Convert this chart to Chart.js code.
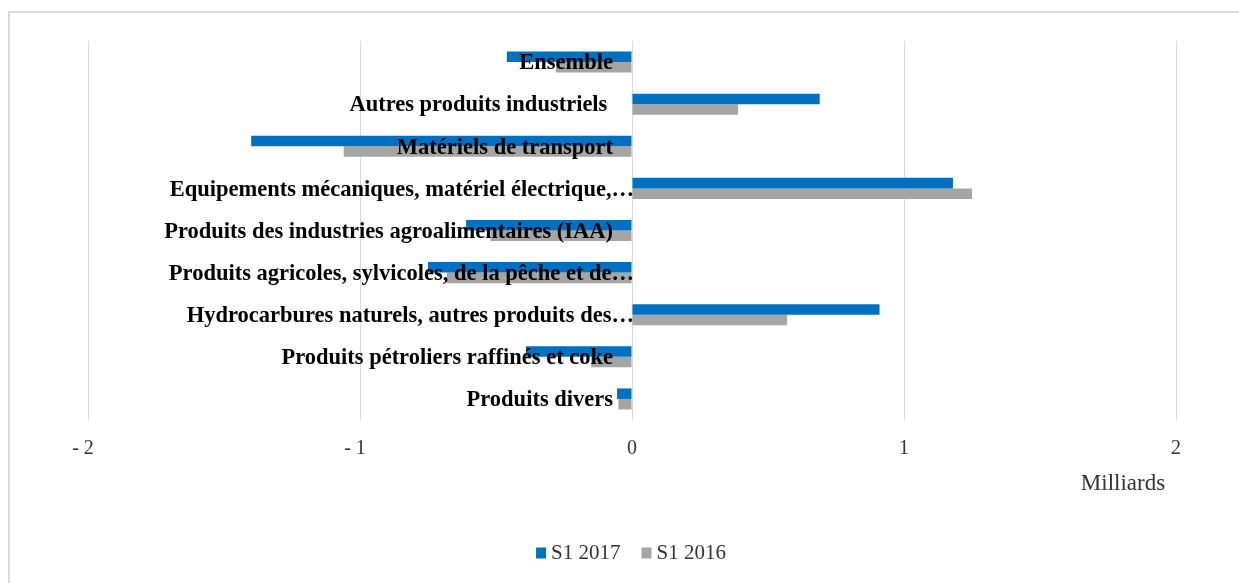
<!DOCTYPE html>
<html>
<head>
<meta charset="utf-8">
<script src="https://cdn.jsdelivr.net/npm/chart.js@4.4.1/dist/chart.umd.min.js"></script>
<style>
  html, body { margin: 0; padding: 0; background: #fff; }
  #wrap { position: relative; width: 1239px; height: 583px; overflow: hidden; }
  #frame { position: absolute; left: 8px; top: 11px; width: 1300px; height: 700px;
           border-left: 2px solid #d9d9d9; border-top: 2px solid #d9d9d9; pointer-events: none; }
  canvas { position: absolute; left: 0; top: 0; }
</style>
</head>
<body>
<div id="wrap">
  <div id="frame"></div>
  <canvas id="c" width="1239" height="583"></canvas>
</div>
<script>
const categories = [
  "Ensemble",
  "Autres produits industriels ",
  "Matériels de transport",
  "Equipements mécaniques, matériel électrique,…",
  "Produits des industries agroalimentaires (IAA)",
  "Produits agricoles, sylvicoles, de la pêche et de…",
  "Hydrocarbures naturels, autres produits des…",
  "Produits pétroliers raffinés et coke",
  "Produits divers"
];
const s2017 = [-0.46, 0.69, -1.40, 1.18, -0.61, -0.75, 0.91, -0.39, -0.055];
const s2016 = [-0.28, 0.39, -1.06, 1.25, -0.52, -0.68, 0.57, -0.15, -0.05];
const seriesNames = ["S1 2017", "S1 2016"];
const seriesColors = ["#0070C0", "#A5A5A5"];
const xTickValues = [-2, -1, 0, 1, 2];
const xTickLabels = ["- 2  ", "- 1  ", "0", "1", "2"];
const axisUnit = "Milliards";

const serif = "'Liberation Serif', 'Times New Roman', serif";

const extrasPlugin = {
  id: 'extras',
  afterDatasetsDraw(chart) {
    const ctx = chart.ctx;
    const xs = chart.scales.x, ys = chart.scales.y;
    const x0 = xs.getPixelForValue(0);
    ctx.save();
    // category labels at the zero line
    ctx.font = "bold 22.5px " + serif;
    ctx.fillStyle = "#000";
    ctx.textBaseline = "middle";
    ctx.textAlign = "right";
    chart.data.labels.forEach((c, i) => {
      const y = ys.getPixelForValue(i);
      const x = c.endsWith('…') ? x0 + 2 : x0 - 19;
      ctx.fillText(c, x, y + 1.5);
    });
    // axis unit
    ctx.font = "23px " + serif;
    ctx.textAlign = "center";
    ctx.fillStyle = "#333";
    ctx.fillText(axisUnit, 1123, 484);
    // legend
    ctx.font = "21px " + serif;
    ctx.textAlign = "left";
    const gapBox = 5, itemGap = 21, boxW = 10, boxH = 11;
    const widths = chart.data.datasets.map(d => boxW + gapBox + ctx.measureText(d.label).width);
    const total = widths.reduce((a, b) => a + b, 0) + itemGap * (widths.length - 1);
    let x = 631 - total / 2;
    const ly = 553;
    chart.data.datasets.forEach((d, i) => {
      ctx.fillStyle = d.backgroundColor;
      ctx.fillRect(x, ly - boxH / 2, boxW, boxH);
      ctx.fillStyle = "#333";
      ctx.fillText(d.label, x + boxW + gapBox, ly);
      x += widths[i] + itemGap;
    });
    ctx.restore();
  }
};

new Chart(document.getElementById('c'), {
  type: 'bar',
  data: {
    labels: categories,
    datasets: [
      { label: seriesNames[0], data: s2017, backgroundColor: seriesColors[0], categoryPercentage: 0.5, barPercentage: 1.0 },
      { label: seriesNames[1], data: s2016, backgroundColor: seriesColors[1], categoryPercentage: 0.5, barPercentage: 1.0 }
    ]
  },
  options: {
    indexAxis: 'y',
    responsive: false,
    animation: false,
    layout: { padding: { left: 88, right: 63, top: 41, bottom: 50 } },
    scales: {
      x: {
        min: -2, max: 2,
        afterBuildTicks(scale) { scale.ticks = xTickValues.map(v => ({ value: v })); },
        afterFit(scale) { scale.height = 113; },
        grid: { color: '#d9d9d9', lineWidth: 1, drawTicks: false },
        border: { display: false },
        ticks: {
          padding: 17,
          color: '#333',
          font: { family: serif, size: 20 },
          callback(v) { const i = xTickValues.indexOf(v); return i >= 0 ? xTickLabels[i] : ''; }
        }
      },
      y: { display: false }
    },
    plugins: {
      legend: { display: false },
      tooltip: { enabled: false }
    }
  },
  plugins: [extrasPlugin]
});
</script>
</body>
</html>
